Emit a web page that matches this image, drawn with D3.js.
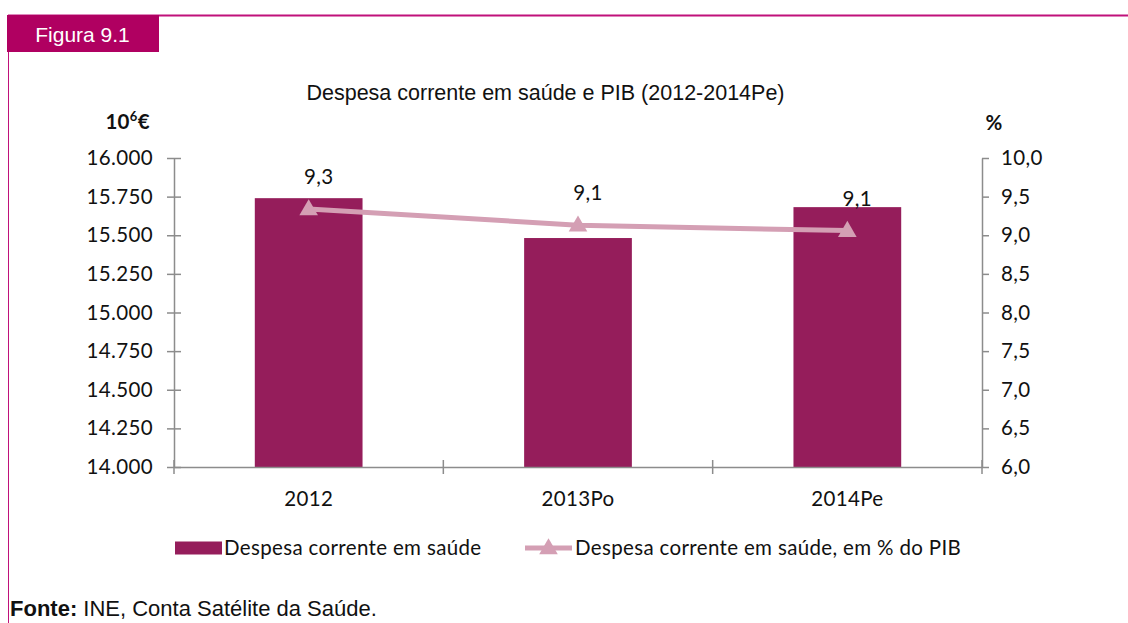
<!DOCTYPE html>
<html>
<head>
<meta charset="utf-8">
<script src="https://cdn.jsdelivr.net/npm/d3@7"></script>
<style>
  html, body { margin: 0; padding: 0; background: #fff; }
  svg { display: block; }
</style>
</head>
<body>
<svg id="chart" width="1128" height="623"></svg>
<script>
// ---- data ----
const categories = ["2012", "2013Po", "2014Pe"];
const despesa = [15740, 15482, 15682];          // 10^6 €
const pctPIB = [9.34, 9.13, 9.06];              // % do PIB
const leftTicks = [14000, 14250, 14500, 14750, 15000, 15250, 15500, 15750, 16000];
const rightTicks = [6.0, 6.5, 7.0, 7.5, 8.0, 8.5, 9.0, 9.5, 10.0];
const seriesNames = ["Despesa corrente em saúde", "Despesa corrente em saúde, em % do PIB"];
const titleText = "Despesa corrente em saúde e PIB (2012-2014Pe)";
const figLabel = "Figura 9.1";

// ---- styles ----
const barColor = "#951d5b";
const lineColor = "#d49fb4";
const axisColor = "#8c8c8c";
const frameColor = "#c0117a";
const tabColor = "#b00061";
const bodyFont = "Lato, 'Open Sans', sans-serif";
const headFont = "'Liberation Sans', Arial, sans-serif";
const fs = 20.5;
const ls = "0.35px";

const svg = d3.select("#chart");

// frame
svg.append("line").attr("x1", 8).attr("x2", 1128).attr("y1", 15.5).attr("y2", 15.5)
  .attr("stroke", frameColor).attr("stroke-width", 2);
svg.append("line").attr("x1", 8.5).attr("x2", 8.5).attr("y1", 15).attr("y2", 623)
  .attr("stroke", frameColor).attr("stroke-width", 1);
svg.append("rect").attr("x", 7).attr("y", 15).attr("width", 152).attr("height", 37).attr("fill", tabColor);
svg.append("text").attr("x", 82.5).attr("y", 42).attr("text-anchor", "middle")
  .attr("font-family", headFont).attr("font-size", 21).attr("fill", "#fff").text(figLabel);

// title
svg.append("text").attr("x", 545.5).attr("y", 99.5).attr("text-anchor", "middle")
  .attr("font-family", headFont).attr("font-size", 21.5).attr("fill", "#111").text(titleText);

// scales
const plot = { left: 174, right: 982, top: 158, bottom: 467 };
const x = d3.scaleBand().domain(categories).range([plot.left, plot.right]).paddingInner(0).paddingOuter(0);
const yL = d3.scaleLinear().domain([14000, 16000]).range([plot.bottom, plot.top]);
const yR = d3.scaleLinear().domain([6, 10]).range([plot.bottom, plot.top]);
const fmtL = v => d3.format(",.0f")(v).replace(/,/g, ".");
const fmtR = v => d3.format(".1f")(v).replace(".", ",");

// bars
const barW = x.bandwidth() * 0.4;
svg.append("g").selectAll("rect").data(categories).join("rect")
  .attr("x", (d) => x(d) + x.bandwidth() / 2 - barW / 2)
  .attr("width", barW)
  .attr("y", (d, i) => yL(despesa[i]))
  .attr("height", (d, i) => yL(14000) - yL(despesa[i]))
  .attr("fill", barColor);

function styleText(sel) {
  sel.attr("font-family", bodyFont).attr("font-size", fs).attr("letter-spacing", ls).attr("fill", "#111");
}

// left axis
const gL = svg.append("g").attr("transform", `translate(${plot.left},0)`)
  .call(d3.axisLeft(yL).tickValues(leftTicks).tickFormat(fmtL).tickSize(0).tickPadding(21));
gL.select(".domain").attr("stroke", axisColor).attr("stroke-width", 1.5);
gL.selectAll(".tick line").attr("x1", -7).attr("x2", 7).attr("stroke", axisColor).attr("stroke-width", 1.5);
gL.selectAll(".tick text").call(styleText);

// right axis
const gR = svg.append("g").attr("transform", `translate(${plot.right},0)`)
  .call(d3.axisRight(yR).tickValues(rightTicks).tickFormat(fmtR).tickSize(7).tickSizeOuter(0).tickPadding(12));
gR.select(".domain").attr("stroke", axisColor).attr("stroke-width", 1.5);
gR.selectAll(".tick line").attr("stroke", axisColor).attr("stroke-width", 1.5);
gR.selectAll(".tick text").call(styleText);

// x axis
const gX = svg.append("g").attr("transform", `translate(0,${plot.bottom})`)
  .call(d3.axisBottom(x).tickSize(0).tickPadding(24));
gX.select(".domain").attr("stroke", axisColor).attr("stroke-width", 1.5);
gX.selectAll(".tick text").call(styleText);
const bounds = categories.map(c => x(c)).concat([plot.right]);
gX.append("g").selectAll("line").data(bounds).join("line")
  .attr("x1", d => d).attr("x2", d => d).attr("y1", -7).attr("y2", 7)
  .attr("stroke", axisColor).attr("stroke-width", 1.5);

// axis unit labels
const unit = svg.append("text").attr("x", 150).attr("y", 129).attr("text-anchor", "end")
  .call(styleText).attr("font-weight", "bold");
unit.append("tspan").text("10");
unit.append("tspan").attr("font-size", 13).attr("dy", -8).text("6");
unit.append("tspan").attr("dy", 8).text("€");
svg.append("text").attr("x", 994).attr("y", 130).attr("text-anchor", "middle")
  .call(styleText).attr("font-weight", "bold").text("%");

// line
const cx = c => x(c) + x.bandwidth() / 2;
const lineGen = d3.line().x(d => cx(d.c)).y(d => yR(d.v));
const pts = categories.map((c, i) => ({ c, v: pctPIB[i] }));
svg.append("path").datum(pts).attr("d", lineGen).attr("fill", "none")
  .attr("stroke", lineColor).attr("stroke-width", 5);
const tri = d3.symbol().type(d3.symbolTriangle).size(150);
svg.append("g").selectAll("path").data(pts).join("path")
  .attr("d", tri).attr("transform", d => `translate(${cx(d.c)},${yR(d.v) + 1})`)
  .attr("fill", lineColor);

// data labels
svg.append("g").selectAll("text").data(pts).join("text")
  .attr("x", d => cx(d.c) + 10).attr("y", d => yR(d.v) - 25)
  .attr("text-anchor", "middle")
  .call(styleText)
  .text(d => fmtR(d.v));

// legend
const lgY = 548;
svg.append("rect").attr("x", 175).attr("y", lgY - 6.5).attr("width", 47).attr("height", 13).attr("fill", barColor);
svg.append("text").attr("x", 224).attr("y", lgY + 7).call(styleText).text(seriesNames[0]);
svg.append("line").attr("x1", 525).attr("x2", 572).attr("y1", lgY).attr("y2", lgY)
  .attr("stroke", lineColor).attr("stroke-width", 5);
svg.append("path").attr("d", tri).attr("transform", `translate(548.5,${lgY + 1})`).attr("fill", lineColor);
svg.append("text").attr("x", 575).attr("y", lgY + 7).call(styleText).text(seriesNames[1]);

// source
const src = svg.append("text").attr("x", 10).attr("y", 616).attr("font-family", headFont)
  .attr("font-size", 22).attr("fill", "#111");
src.append("tspan").attr("font-weight", "bold").text("Fonte:");
src.append("tspan").text(" INE, Conta Satélite da Saúde.");
</script>
</body>
</html>
